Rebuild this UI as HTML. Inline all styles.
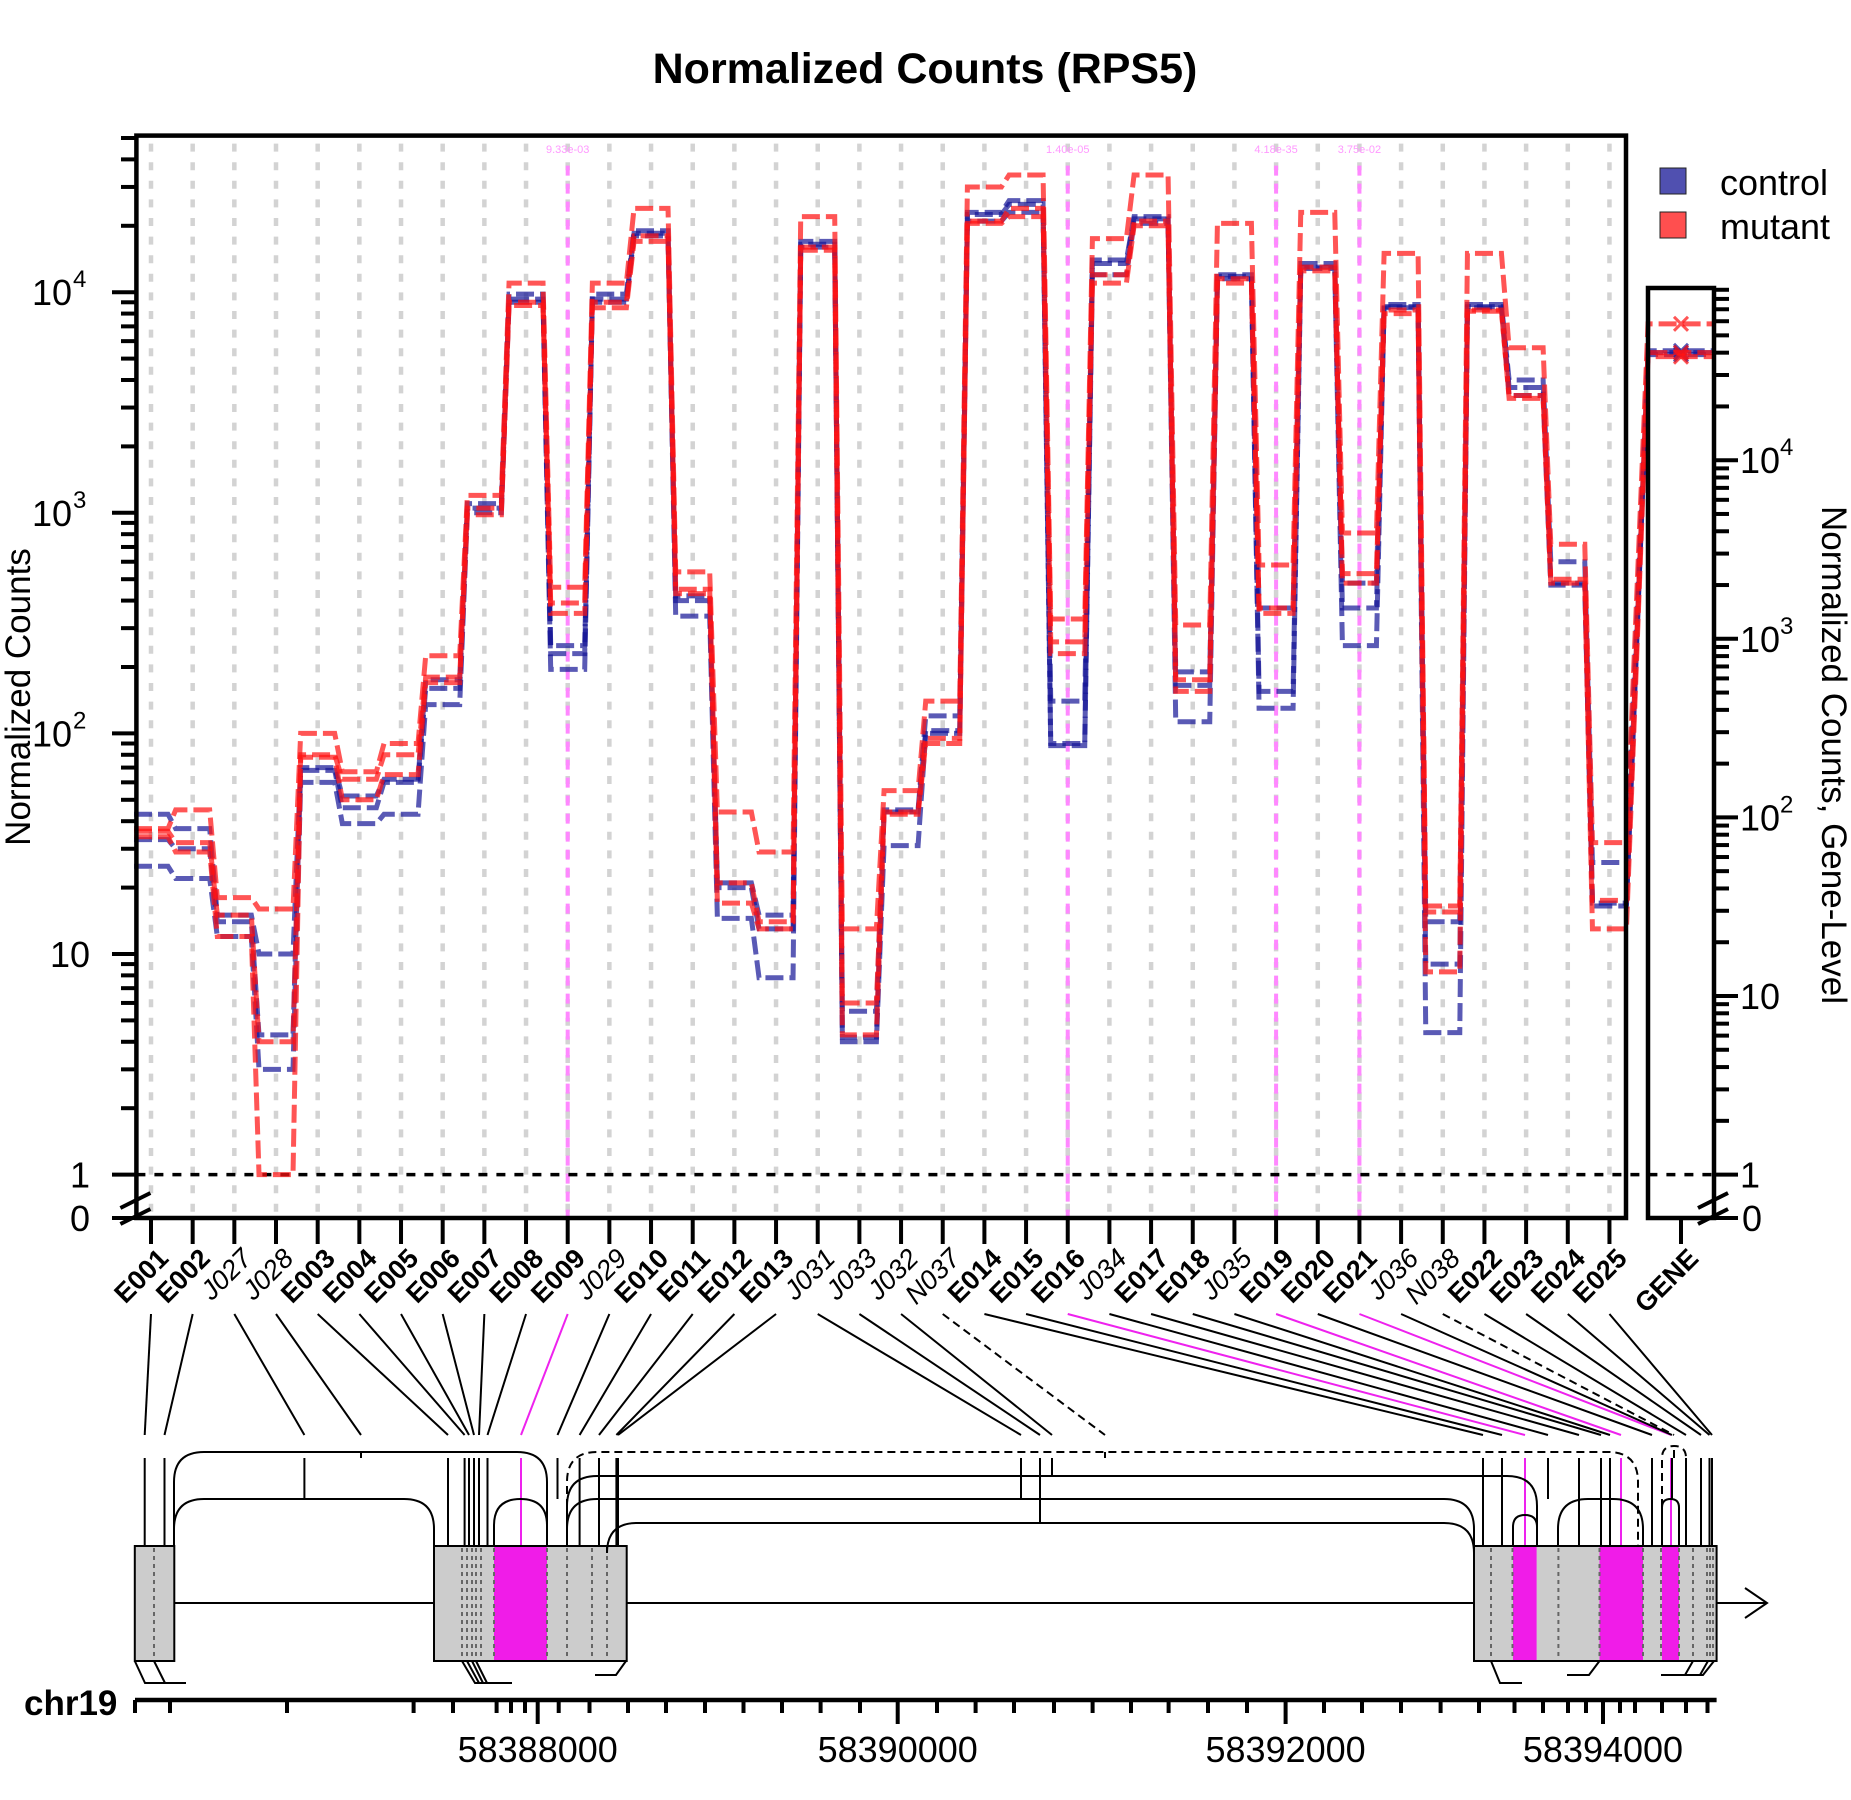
<!DOCTYPE html>
<html><head><meta charset="utf-8"><style>
html,body{margin:0;padding:0;background:#fff;}
svg{display:block;font-family:"Liberation Sans",Arial,sans-serif;}
</style></head><body>
<svg id="chart" width="1851" height="1800" viewBox="0 0 1851 1800" xmlns="http://www.w3.org/2000/svg">
<rect width="1851" height="1800" fill="#fff"/>
<text x="925" y="83" text-anchor="middle" font-size="43" font-weight="bold">Normalized Counts (RPS5)</text>
<g id="grid"></g><g id="series"></g><g id="axes"></g><g id="model"></g>
<text transform="translate(30,697) rotate(-90)" text-anchor="middle" font-size="35">Normalized Counts</text>
<text transform="translate(1822,755) rotate(90)" text-anchor="middle" font-size="35">Normalized Counts, Gene-Level</text>
<rect x="1660" y="168" width="26" height="26" fill="#5050b0" stroke="#222" stroke-width="1"/>
<text x="1720" y="195" font-size="36">control</text>
<rect x="1660" y="212" width="26" height="26" fill="#ff4f4f" stroke="#222" stroke-width="1"/>
<text x="1720" y="239" font-size="36">mutant</text>
</svg>
<script>
const categories=["E001","E002","J027","J028","E003","E004","E005","E006","E007","E008","E009","J029","E010","E011","E012","E013","J031","J033","J032","N037","E014","E015","E016","J034","E017","E018","J035","E019","E020","E021","J036","N038","E022","E023","E024","E025"];
const control1=[43,37,15,10,70,52,62,175,1100,9800,250,9800,19000,420,21,15,17000,5.5,45,120,23000,26000,140,14000,22000,190,12000,370,13500,480,8800,14,8800,4000,600,26];
const control2=[33,30,14,4.3,68,46,60,160,1050,9300,230,9300,18500,400,20,13,16500,4.2,44,103,22500,25000,90,13500,21500,165,11800,155,13000,370,8600,9,8600,3700,480,17];
const control3=[25,22,12,3,60,39,43,135,1000,9000,195,9000,18000,340,14.5,7.8,16000,4,31,100,21000,23000,88,12000,20500,113,11500,130,12800,250,8500,4.4,8500,3400,470,16.5];
const mutant1=[37,45,18,16,100,67,90,225,1200,11000,460,11000,24000,540,44,29,22000,13,55,140,30000,34000,330,17500,34000,310,20500,580,23000,810,15000,16.5,15000,5600,720,32];
const mutant2=[36,32,15,4,80,62,80,180,1050,9000,390,9000,18000,450,21,14,16000,6,44,95,21000,24000,260,12000,21000,175,11500,370,13000,530,8300,15.5,8300,3400,500,17.5];
const mutant3=[34,29,12,1,78,50,65,170,980,8700,350,8500,17000,430,17,13,15500,4.3,43,90,20500,22000,230,11000,20000,155,11000,350,12500,480,8000,8.3,8200,3300,480,13];
const geneControl=[41000,40000,39000];
const geneMutant=[58000,40000,38000];
const sigColumns=["E009","E016","E019","E021"];
const sigLabels=["9.33e-03","1.40e-05","4.18e-35","3.75e-02"];
const yTickLabels=["1","10","10","10","10"];
const yTickExp=["","","2","3","4"];
const genomeTickLabels=["58388000","58390000","58392000","58394000"];

const NS="http://www.w3.org/2000/svg";
const L=136.4,R=1626,T=135.6,B=1218,GL=1648,GR=1714,GT=288;
const colX=i=>151+i*41.67;
const yMain=v=>1174.6-Math.log10(v)*220.6;
const yGene=v=>1174.6-Math.log10(v)*178.6;
function mk(tag,attrs,parent,txt){const e=document.createElementNS(NS,tag);for(const k in attrs)e.setAttribute(k,attrs[k]);if(txt!==undefined)e.textContent=txt;parent.appendChild(e);return e;}
const grid=document.getElementById('grid'),ser=document.getElementById('series'),axes=document.getElementById('axes'),model=document.getElementById('model');

categories.forEach((c,i)=>{
  const g=mk('line',{x1:colX(i),x2:colX(i),y1:T+8,y2:B,stroke:'#d3d3d3','stroke-width':4.5,'stroke-dasharray':'8,10.6'},grid);
  
  
});
sigColumns.forEach((c,k)=>{
  const x=colX(categories.indexOf(c));
  const l=mk('line',{x1:x,x2:x,y1:T+30,y2:B,stroke:'#ff88ff','stroke-width':4,'stroke-dasharray':'10,8'},grid);
  
  
  const t=mk('text',{x:x,y:153,'text-anchor':'middle','font-size':11,fill:'#ff99ff'},grid,sigLabels[k]);
  
  
});
const one=mk('line',{x1:L,x2:GR,y1:yMain(1),y2:yMain(1),stroke:'#000','stroke-width':3.5,'stroke-dasharray':'9,9'},grid);



const allSeries=[[control1,geneControl[0],'rgba(20,20,150,0.7)','control-sample-1'],[control2,geneControl[1],'rgba(20,20,150,0.7)','control-sample-2'],[control3,geneControl[2],'rgba(20,20,150,0.7)','control-sample-3'],[mutant1,geneMutant[0],'rgba(255,20,20,0.72)','mutant-sample-1'],[mutant2,geneMutant[1],'rgba(255,20,20,0.72)','mutant-sample-2'],[mutant3,geneMutant[2],'rgba(255,20,20,0.72)','mutant-sample-3']];
allSeries.forEach(([vals,gv,col,name])=>{
  let d='';
  vals.forEach((v,i)=>{const y=yMain(v);d+=(i?'L':'M')+(colX(i)-17)+','+y+'L'+(colX(i)+17)+','+y;});
  d+='L'+GL+','+yGene(gv)+'L'+GR+','+yGene(gv);
  const p=mk('path',{d:d,fill:'none',stroke:col,'stroke-width':5,'stroke-dasharray':'18,6'},ser);
  
  
  const gx=(GL+GR)/2,gy=yGene(gv);
  const m=mk('path',{d:`M${gx-7},${gy-7}L${gx+7},${gy+7}M${gx-7},${gy+7}L${gx+7},${gy-7}`,stroke:col,'stroke-width':3},ser);
  
  
});

const box=mk('rect',{x:L,y:T,width:R-L,height:B-T,fill:'none',stroke:'#000','stroke-width':4.5},axes);


const gbox=mk('rect',{x:GL,y:GT,width:GR-GL,height:B-GT,fill:'none',stroke:'#000','stroke-width':4.5},axes);



for(let k=0;k<5;k++){
  for(let m=1;m<10;m++){
    const v=m*Math.pow(10,k),y=yMain(v);if(y<T)continue;
    const t=mk('line',{x1:m==1?112:121,x2:L,y1:y,y2:y,stroke:'#000','stroke-width':4},axes);
    
    
  }
  const yg=yMain(Math.pow(10,k));
  const tl=mk('text',{x:yTickExp[k]?72:90,y:yg+13,'text-anchor':'end','font-size':36},axes,yTickLabels[k]);
  
  
  if(yTickExp[k]){const s=mk('text',{x:73,y:yg-5,'font-size':24},axes,yTickExp[k]);
  
  }
  for(let m=1;m<10;m++){
    const yy=yGene(m*Math.pow(10,k));if(yy<GT)continue;
    const t2=mk('line',{x1:GR,x2:m==1?1738:1729,y1:yy,y2:yy,stroke:'#000','stroke-width':4},axes);
    
    
  }
  const gy=yGene(Math.pow(10,k));
  const gl=mk('text',{x:1740,y:gy+13,'font-size':36},axes,yTickLabels[k]);
  
  
  if(yTickExp[k]){const s2=mk('text',{x:1780,y:gy-5,'font-size':24},axes,yTickExp[k]);
  
  }
}
[[L,112],[GR,1738]].forEach(([x,x2],j)=>{
  const t0=mk('line',{x1:x,x2:x2,y1:B,y2:B,stroke:'#000','stroke-width':4},axes);
  
  
  const z=mk('text',{x:j?1742:90,y:B+13,'text-anchor':j?'start':'end','font-size':36},axes,'0');
  
  
  const br=mk('path',{d:`M${x-16},${1208}L${x+14},${1193}M${x-16},${1224}L${x+14},${1209}`,stroke:'#000','stroke-width':4,fill:'none'},axes);
  
  
});

const xcats=categories.concat(['GENE']);
xcats.forEach((c,i)=>{
  const x=c==='GENE'?1681:colX(i);
  const t=mk('line',{x1:x,x2:x,y1:B,y2:1244,stroke:'#000','stroke-width':4},axes);
  
  
  const it=c[0]!=='E'&&c!=='GENE';
  const lab=mk('text',{transform:`translate(${x+19},${1260}) rotate(-45)`,'text-anchor':'end','font-size':27,'font-weight':it?'normal':'bold','font-style':it?'italic':'normal'},axes,c);
  
  
});

const connEnd={E001:144.7,E002:164.5,J027:304.4,J028:361,E003:448,E004:464.6,E005:469,E006:474,E007:479,E008:487.5,E009:521,J029:557.5,E010:579.6,E011:599,E012:616.4,E013:618,J031:1021,J033:1040,J032:1052,N037:1105,E014:1483,E015:1502,E016:1525,J034:1548,E017:1579,E018:1601,J035:1610,E019:1621,E020:1652,E021:1671,J036:1672,N038:1674,E022:1686,E023:1701,E024:1709.5,E025:1712};
const dropEnd={J027:1499,J028:1452,J031:1499,J033:1523,J032:1476,N037:1452,J034:1499,J036:1499,N038:1446,J029:1499};
categories.forEach((c,i)=>{
  const gx=connEnd[c],mag=sigColumns.includes(c),dash=c[0]==='N';
  const col=mag?'#ee22ee':'#000';
  const a=mk('line',{x1:colX(i),y1:1314,x2:gx,y2:1435,stroke:col,'stroke-width':2,'stroke-dasharray':dash?'8,5':'none'},model);
  
  
  const yb=dropEnd[c]||1546;
  const b=mk('line',{x1:gx,y1:1458,x2:gx,y2:yb,stroke:col,'stroke-width':2,'stroke-dasharray':dash?'8,5':'none'},model);
  
  
});
const intr=mk('path',{d:'M174,1603L1767,1603M1745,1588L1767,1603L1745,1618',stroke:'#000','stroke-width':2,fill:'none'},model);


[[134.8,174.3],[434,626.7],[1474,1716.6]].forEach((e,k)=>{
  const r=mk('rect',{x:e[0],y:1546,width:e[1]-e[0],height:115,fill:'#cccccc',stroke:'#000','stroke-width':2},model);
  
  
});
[[494,547],[1513,1536.6],[1599.5,1643],[1662,1679]].forEach(m=>{
  const r=mk('rect',{x:m[0],y:1547,width:m[1]-m[0],height:113,fill:'#f01ce8'},model);
  
  
});
[154,462,467,472,476,481,494,547,567,592,607,1491,1512.5,1558.4,1599.5,1643,1661,1679,1693,1707,1710,1713].forEach(x=>{
  const d=mk('line',{x1:x,x2:x,y1:1548,y2:1659,stroke:'#666','stroke-width':2,'stroke-dasharray':'4,4'},model);
  
  
});
const arcs=[[174,547,1452,false],[174,434,1499,false],[494,547,1499,false],[567,1638,1452,true],[567,1537,1476,false],[567,1474,1499,false],[607,1474,1523,false],[1513,1537,1515,false],[1558,1643,1499,false],[1662,1679,1499,false],[1662,1686,1446,true]];
arcs.forEach(([x1,x2,top,dash])=>{
  const r=Math.min(30,(x2-x1)/2);
  const a=mk('path',{d:`M${x1},1546L${x1},${top+r}Q${x1},${top} ${x1+r},${top}L${x2-r},${top}Q${x2},${top} ${x2},${top+r}L${x2},1546`,fill:'none',stroke:'#000','stroke-width':2,'stroke-dasharray':dash?'8,5':'none'},model);
  
  
});
const tails=mk('path',{d:'M134.8,1661L145,1683L186,1683M154,1661L165,1683M462,1661L475,1683L512,1683M467,1661L479,1683M472,1661L483,1683M476,1661L487,1683M595,1675L616,1675L626,1661M1491,1661L1500,1683L1522,1683M1567,1675L1589,1675L1599.5,1661M1661,1675L1703,1675L1714,1661M1685,1675L1693,1661M1700,1675L1708,1661',stroke:'#000','stroke-width':2,fill:'none'},model);



const gax=mk('line',{x1:135,x2:1716.6,y1:1700,y2:1700,stroke:'#000','stroke-width':4.5},model);


const minorG=[135,170,287,413.6,453,496.6,511,525,558.7,589.5,628,666,705,743.5,782,820.6,860,937,975.6,1014,1054,1092.6,1131,1168.6,1208,1247,1324,1362,1401,1440.6,1479,1514.5,1543,1568,1586,1620,1635,1662,1686,1707.5];
minorG.forEach(x=>{const t=mk('line',{x1:x,x2:x,y1:1700,y2:1713,stroke:'#000','stroke-width':4},model);

});
[537.7,897.7,1285.6,1603].forEach((x,k)=>{
  const t=mk('line',{x1:x,x2:x,y1:1700,y2:1724,stroke:'#000','stroke-width':4},model);
  
  
  const l=mk('text',{x:x,y:1762,'text-anchor':'middle','font-size':36},model,genomeTickLabels[k]);
  
  
});
const chr=mk('text',{x:24,y:1715,'font-size':35,'font-weight':'bold'},model,'chr19');


</script>
</body></html>
